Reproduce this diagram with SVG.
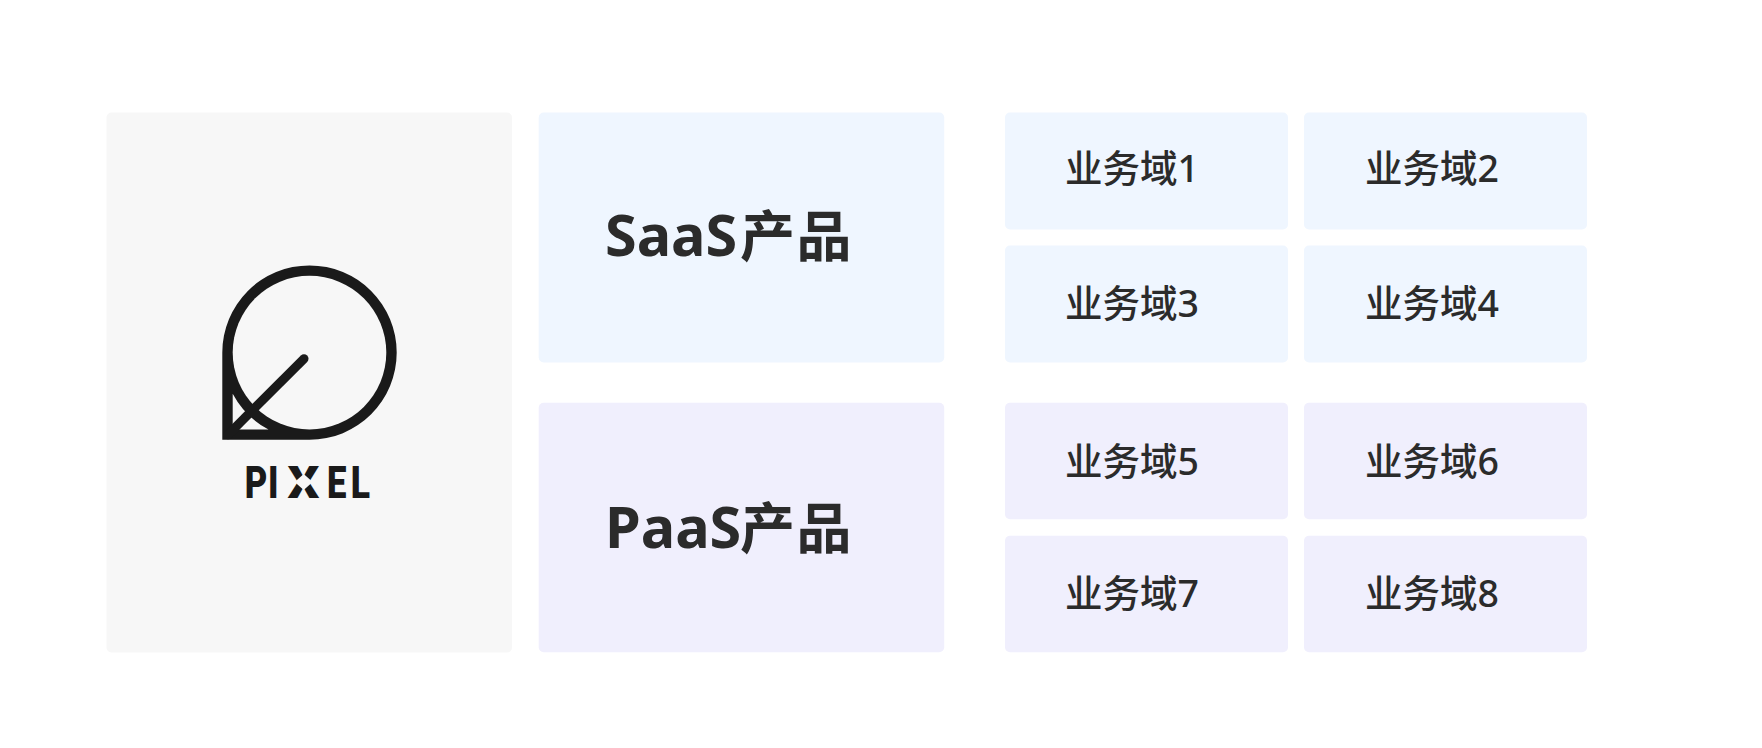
<svg xmlns="http://www.w3.org/2000/svg" width="1762" height="748" viewBox="0 0 1762 748">
<style>
.saas{fill:#eff6ff}
.paas{fill:#f0effd}
.t{font-family:"Noto Sans","Noto Sans CJK SC",sans-serif;fill:#2b2b2b}
.big{font-size:57.5px;font-weight:700}
.cjk{font-size:55px}
.small{font-size:37.5px;font-weight:500}
.logo{font-family:Roboto,"Liberation Sans",sans-serif;font-weight:900;font-size:44.5px;fill:#1a1a1a}
</style>
<rect width="1762" height="748" fill="#fff"/>
<g id="brand">
<rect x="106.5" y="112.5" width="405.5" height="540" rx="5" fill="#f7f7f7"/>
<path d="M222.3 352.6A87.2 87.2 0 1 1 309.5 439.8H222.3Z" fill="#1a1a1a"/>
<circle cx="309.5" cy="352.6" r="76.8" fill="#f7f7f7"/>
<path d="M232.7 393.8A87.2 87.2 0 0 0 268.5 429.6H232.7Z" fill="#f7f7f7"/>
<path d="M228 434.7L304 358.7" fill="none" stroke="#1a1a1a" stroke-width="9" stroke-linecap="round"/>
<text class="logo" transform="translate(244.7 498) scale(.78 1)">P</text>
<text class="logo" transform="translate(268 498) scale(.78 1)">I</text>
<text class="logo" transform="translate(287.5 498) scale(1.12 1)">X</text>
<path d="M303.7 474l9 8-9 8-9-8z" fill="#f7f7f7"/>
<text class="logo" transform="translate(327 498) scale(.78 1)">E</text>
<text class="logo" transform="translate(350.7 498) scale(.8 1)">L</text>
</g>
<g id="saas"><rect class="saas" x="538.7" y="112.5" width="405.5" height="250" rx="5"/><text class="t big" x="605" y="256">SaaS<tspan class="cjk" x="740">产</tspan><tspan class="cjk" x="796.5">品</tspan></text></g>
<g id="paas"><rect class="paas" x="538.7" y="402.7" width="405.5" height="249.5" rx="5"/><text class="t big" x="605" y="547.5">PaaS<tspan class="cjk" x="740">产</tspan><tspan class="cjk" x="796.5">品</tspan></text></g>
<g id="d1"><rect class="saas" x="1005" y="112.5" width="283" height="117" rx="5"/><text class="t small" x="1065" y="182">业务域1</text></g>
<g id="d2"><rect class="saas" x="1304" y="112.5" width="283" height="117" rx="5"/><text class="t small" x="1365" y="182">业务域2</text></g>
<g id="d3"><rect class="saas" x="1005" y="245.5" width="283" height="117" rx="5"/><text class="t small" x="1065" y="317">业务域3</text></g>
<g id="d4"><rect class="saas" x="1304" y="245.5" width="283" height="117" rx="5"/><text class="t small" x="1365" y="317">业务域4</text></g>
<g id="d5"><rect class="paas" x="1005" y="402.7" width="283" height="116.5" rx="5"/><text class="t small" x="1065" y="475">业务域5</text></g>
<g id="d6"><rect class="paas" x="1304" y="402.7" width="283" height="116.5" rx="5"/><text class="t small" x="1365" y="475">业务域6</text></g>
<g id="d7"><rect class="paas" x="1005" y="535.7" width="283" height="116.5" rx="5"/><text class="t small" x="1065" y="607">业务域7</text></g>
<g id="d8"><rect class="paas" x="1304" y="535.7" width="283" height="116.5" rx="5"/><text class="t small" x="1365" y="607">业务域8</text></g>
</svg>
